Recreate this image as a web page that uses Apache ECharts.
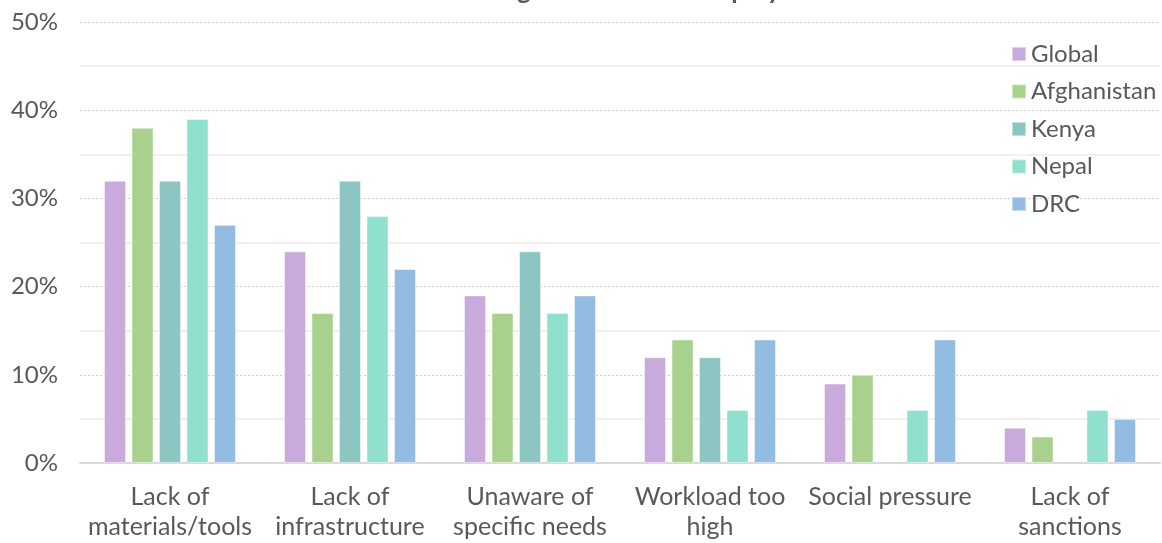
<!DOCTYPE html>
<html>
<head>
<meta charset="utf-8">
<script src="https://cdn.jsdelivr.net/npm/echarts@6/dist/echarts.min.js"></script>
<style>
  html, body { margin: 0; padding: 0; background: #ffffff; }
  #chart { width: 1162px; height: 543px; }
</style>
</head>
<body>
<div id="chart"></div>
<script>
// Reasons reported, share of respondents (%)
const categories = [
  'Lack of\nmaterials/tools',
  'Lack of\ninfrastructure',
  'Unaware of\nspecific needs',
  'Workload too\nhigh',
  'Social pressure',
  'Lack of\nsanctions'
];
const seriesNames = ['Global', 'Afghanistan', 'Kenya', 'Nepal', 'DRC'];
const globalValues      = [32, 24, 19, 12, 9, 4];
const afghanistanValues = [38, 17, 17, 14, 10, 3];
const kenyaValues       = [32, 32, 24, 12, null, null];
const nepalValues       = [39, 28, 17, 6, 6, 6];
const drcValues         = [27, 22, 19, 14, 14, 5];
const yTicks = [0, 10, 20, 30, 40, 50];
const titleText = 'Main barriers to meeting standards for employees';

const colors = ['#C8AADC', '#A9D18E', '#8CC5C1', '#8FE0CC', '#93BCE3'];
const allValues = [globalValues, afghanistanValues, kenyaValues, nepalValues, drcValues];
const FONT = 'Lato, "Open Sans", sans-serif';
const TEXT = '#595959';
const TITLE_FONT = 'bold 26px Lato';

// Horizontal placement of the title: anchor the first "g" of the heading
const measureCtx = document.createElement('canvas').getContext('2d');
measureCtx.font = TITLE_FONT;
const titleLeft = Math.round(517 - measureCtx.measureText('Main barriers to meetin').width);

const chart = echarts.init(document.getElementById('chart'), null, { renderer: 'canvas' });

chart.setOption({
  animation: false,
  backgroundColor: '#ffffff',
  title: {
    text: titleText,
    left: titleLeft,
    top: -22,
    padding: 0,
    textStyle: { fontFamily: FONT, fontSize: 26, fontWeight: 'bold', color: TEXT }
  },
  legend: {
    orient: 'vertical',
    left: 1006,
    top: 37,
    itemWidth: 14,
    itemHeight: 14,
    itemGap: 13.5,
    icon: 'rect',
    data: seriesNames,
    textStyle: { fontFamily: FONT, fontSize: 24, color: TEXT }
  },
  grid: { left: 80, right: 2, top: 22, bottom: 80, containLabel: false },
  xAxis: {
    type: 'category',
    data: categories,
    axisLine: { show: true, lineStyle: { color: '#D9D9D9', width: 2 } },
    axisTick: { show: false },
    axisLabel: {
      fontFamily: FONT, fontSize: 25, color: TEXT, lineHeight: 30,
      margin: 19, interval: 0
    }
  },
  yAxis: {
    type: 'value',
    min: yTicks[0],
    max: yTicks[yTicks.length - 1],
    interval: 10,
    axisLine: { show: false },
    axisTick: { show: false },
    axisLabel: {
      fontFamily: FONT, fontSize: 24, color: TEXT, margin: 22,
      formatter: '{value}%'
    },
    splitLine: { show: true, lineStyle: { color: '#D0D0D0', width: 1, type: [2, 2] } },
    minorTick: { show: false, splitNumber: 2 },
    minorSplitLine: { show: true, lineStyle: { color: '#F0F0F0', width: 2 } }
  },
  series: seriesNames.map((name, i) => ({
    name: name,
    type: 'bar',
    data: allValues[i],
    barWidth: 22,
    barGap: '25%',
    itemStyle: {
      color: colors[i],
      borderColor: 'rgba(255,255,255,0.45)',
      borderWidth: 1
    }
  }))
});
</script>
</body>
</html>
